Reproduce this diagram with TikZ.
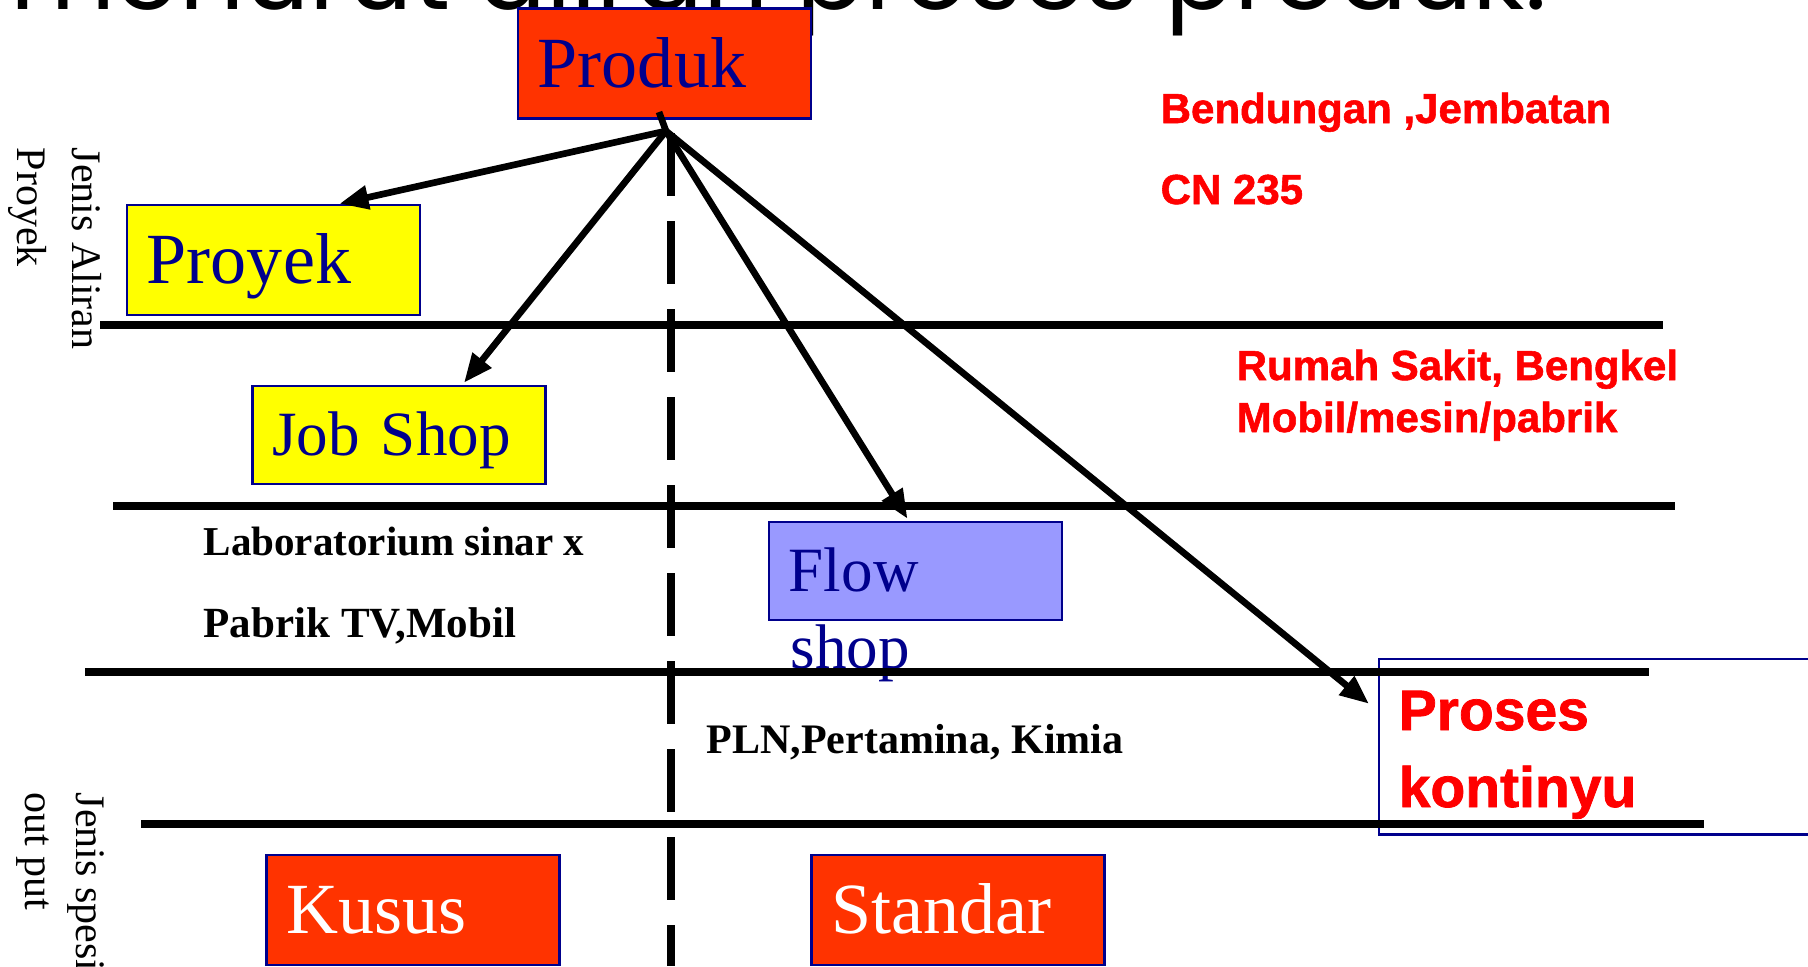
\documentclass[tikz,border=0pt]{standalone}
\usepackage{fontspec}
\setmainfont{Liberation Serif}
\newfontfamily\redsans{Liberation Sans}[UprightFont=* Bold, FakeBold=1.3]
\newfontfamily\titlefont{Poppins}
\usetikzlibrary{arrows.meta,calc}

\begin{document}
\begin{tikzpicture}[
	x=0.01cm, y=-0.01cm,
	box/.style={draw=navy, line width=0.7pt, text=navy, text width=2.53cm, inner xsep=0.2cm, inner ysep=0pt, align=left, text depth=0cm},
	bigbox/.style={box, minimum height=1.1cm, text height=0.475cm, font=\fontsize{0.72cm}{0.8cm}\selectfont},
	smallbox/.style={box, minimum height=0.98cm, text height=0.416cm, font=\fontsize{0.63cm}{0.7cm}\selectfont},
	hline/.style={line width=2pt},
	link/.style={line width=1.9pt, -{Triangle[length=0.29cm, width=0.23cm]}},
	note/.style={font=\redsans\fontsize{0.42cm}{0.5cm}\selectfont, color=notered, anchor=base west, inner sep=0pt},
	sample/.style={font=\bfseries\fontsize{0.41cm}{0.5cm}\selectfont, anchor=base west, inner sep=0pt},
	side/.style={font=\fontsize{0.42cm}{0.5cm}\selectfont, rotate=-90, anchor=base west, inner sep=0pt}
	]
	% Define colors
	\definecolor{navy}{RGB}{0,0,140}        % box borders and box text
	\definecolor{boxred}{RGB}{255,51,0}     % Produk, Kusus, Standar
	\definecolor{boxyellow}{RGB}{255,255,0} % Proyek, Job Shop
	\definecolor{lilac}{RGB}{153,153,255}   % Flow shop
	\definecolor{notered}{RGB}{255,0,0}     % examples in red
	
	\useasboundingbox (0,0) rectangle (1808,966);
	
	% Title (cut off at the top)
	\node[font=\titlefont\fontsize{1.02cm}{1.1cm}\selectfont, anchor=base west, inner sep=0pt] (title) at (10,9) {menurut aliran proses produk.};
	
	% Side labels
	\node[side] (alirA) at (72,147) {Jenis Aliran};
	\node[side] (alirB) at (18,147) {Proyek};
	\node[side] (specA) at (77,792) {Jenis spesifikasi};
	\node[side] (specB) at (25,792) {out put};
	
	% Boxes
	\node[bigbox, fill=boxred] (produk) at (664.5,63.5) {Produk};
	\node[bigbox, fill=boxyellow] (proyek) at (273.5,260) {Proyek};
	\node[smallbox, fill=boxyellow] (jobshop) at (399,435) {Job Shop};
	\node[smallbox, fill=lilac] (flow) at (915.5,571) {Flow};
	\node[font=\fontsize{0.63cm}{0.7cm}\selectfont, text=navy, anchor=base west, inner sep=0pt] (shop) at (790,668) {shop};
	\node[bigbox, fill=boxred, text=white] (kusus) at (413,910) {Kusus};
	\node[bigbox, fill=boxred, text=white] (standar) at (958,910) {Standar};
	\node[draw=navy, line width=0.7pt, minimum width=4.6cm, minimum height=1.75cm, inner sep=0pt, anchor=north west] (proses) at (1378,658) {};
	\node[note, font=\redsans\fontsize{0.57cm}{0.7cm}\selectfont] (prosesA) at (1398,730) {Proses};
	\node[note, font=\redsans\fontsize{0.57cm}{0.7cm}\selectfont] (prosesB) at (1398,807) {kontinyu};
	
	% Examples
	\node[note] (bendungan) at (1160,123) {Bendungan ,Jembatan};
	\node[note] (cn) at (1160,204) {CN 235};
	\node[note] (rumah) at (1236,380) {Rumah Sakit, Bengkel};
	\node[note] (mobil) at (1236,432) {Mobil/mesin/pabrik};
	\node[sample] (lab) at (203,555) {Laboratorium sinar x};
	\node[sample, font=\bfseries\fontsize{0.43cm}{0.5cm}\selectfont] (pabrik) at (203,637) {Pabrik TV,Mobil};
	\node[sample, font=\bfseries\fontsize{0.42cm}{0.5cm}\selectfont] (pln) at (706,753) {PLN,Pertamina, Kimia};
	
	% Level lines
	\draw[hline] (100,325) -- (1663,325);
	\draw[hline] (113,506) -- (1675,506);
	\draw[hline] (85,672) -- (1649,672);
	\draw[hline] (141,824) -- (1704,824);
	
	% Divider between kusus and standar
	\draw[line width=2.2pt, dash pattern=on 0.63cm off 0.25cm] (671,133) -- (671,966);
	
	% Arrows from Produk
	\coordinate (stub) at (659,112);
	\coordinate (hub) at (666,131);
	\draw[line width=1.9pt] (stub) -- (hub);
	\draw[link] (hub) -- ($(proyek.north)+(66,0)$);
	\draw[link] (hub) -- ($(jobshop.north)+(65,-2)$);
	\draw[link] (hub) -- ($(flow.north)+(-8,-2)$);
	\draw[link] (hub) -- ($(proses.west)+(-9,-43)$);
\end{tikzpicture}
\end{document}
